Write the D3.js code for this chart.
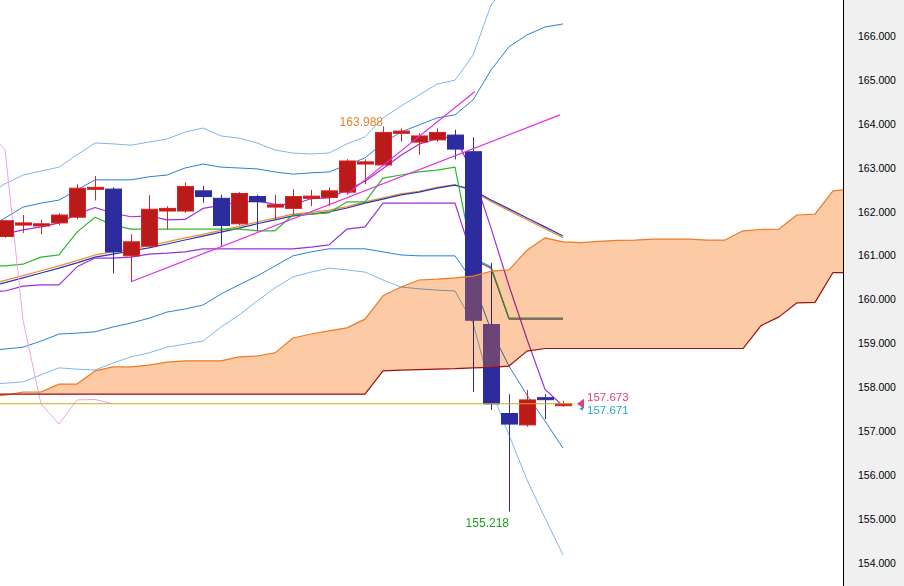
<!DOCTYPE html>
<html lang="en">
<head>
<meta charset="UTF-8">
<title>Chart</title>
<script src="https://d3js.org/d3.v7.min.js"></script>
<style>
    html, body { margin: 0; padding: 0; background: #fff; }
    svg { display: block; font-family: "Liberation Sans", Arial, sans-serif; }
</style>
</head>
<body>
<div id="chart"></div>
<script>
// candles (oldest -> newest), bar 0 .. 31
const opens  = [161.48,161.74,161.72,161.79,161.92,162.56,162.56,161.04,161.26,162.06,162.06,162.52,162.35,161.77,162.39,162.15,162.12,162.35,162.37,162.49,163.13,163.11,163.83,163.63,163.68,163.79,163.41,159.47,157.45,157.19,157.81,157.66];
const highs  = [161.86,161.97,161.86,162.01,162.67,162.86,162.60,161.53,162.42,162.17,162.71,162.63,162.43,162.49,162.43,162.43,162.56,162.54,162.60,163.24,163.24,163.988,163.94,163.83,163.94,163.91,163.74,160.88,157.89,157.99,157.89,157.74];
const lows   = [161.45,161.56,161.53,161.74,161.88,162.30,160.64,160.45,161.25,161.64,162.02,162.25,161.27,161.74,161.61,161.88,161.97,162.17,162.17,162.44,162.67,163.10,163.64,163.34,163.64,163.24,157.94,157.53,155.218,157.15,157.32,157.61];
const closes = [161.84,161.79,161.77,161.97,162.58,162.60,161.13,161.36,162.10,162.12,162.62,162.39,161.73,162.46,162.27,162.20,162.39,162.40,162.52,163.20,163.18,163.85,163.88,163.77,163.85,163.47,159.58,157.67,157.21,157.76,157.77,157.673];

// indicator series start one bar before the first visible candle (bar -1)
const lineStart = -1;

// bollinger bands + moving averages
const bbUp3  = [162.43,162.68,162.88,162.97,163.06,163.34,163.61,163.59,163.56,163.63,163.70,163.86,163.95,163.77,163.72,163.61,163.45,163.38,163.36,163.38,163.59,163.75,164.18,164.45,164.70,164.95,165.04,165.61,166.75,167.26,167.86,168.33,168.75];
const bbUp2  = [161.67,161.90,162.15,162.24,162.31,162.54,162.77,162.77,162.77,162.84,162.88,163.04,163.13,163.06,163.04,163.02,162.95,162.90,162.93,162.95,163.11,163.27,163.61,163.86,164.02,164.18,164.25,164.59,165.27,165.80,166.07,166.25,166.32];
const bbMid  = [160.33,160.43,160.54,160.65,160.76,160.88,161.01,161.08,161.15,161.22,161.31,161.40,161.49,161.58,161.67,161.77,161.86,161.95,161.99,162.04,162.13,162.24,162.33,162.43,162.49,162.58,162.65,162.54,162.31,162.11,161.90,161.70,161.49];
const bbLow2 = [158.87,158.92,158.96,159.10,159.26,159.28,159.31,159.42,159.51,159.62,159.76,159.83,159.92,160.17,160.38,160.58,160.81,161.04,161.13,161.20,161.20,161.20,161.13,161.06,161.04,161.04,161.04,160.45,159.35,158.53,157.87,157.28,156.66];
const bbLow3 = [158.10,158.14,158.17,158.33,158.49,158.46,158.44,158.60,158.74,158.83,158.96,159.03,159.10,159.42,159.69,160.01,160.31,160.56,160.67,160.76,160.72,160.67,160.49,160.33,160.29,160.26,160.24,159.51,158.00,156.96,155.94,155.07,154.23];
const maOrange = [160.38,160.48,160.59,160.70,160.81,160.93,161.06,161.13,161.20,161.27,161.36,161.45,161.53,161.62,161.71,161.81,161.90,161.99,162.03,162.08,162.16,162.27,162.36,162.45,162.51,162.60,162.66,162.52,162.28,162.07,161.86,161.66,161.45];
const ma5 = [161.45,161.54,161.63,161.70,161.79,161.99,162.14,162.01,161.93,161.95,161.86,161.87,162.12,162.19,162.26,162.29,162.21,162.21,162.34,162.36,162.54,162.74,163.03,163.33,163.58,163.71,163.76,162.91,161.67,160.36,159.14,158.00,157.62];

// ichimoku
const tenkan = [160.81,160.81,160.85,161.01,161.06,161.58,161.92,161.74,161.65,161.65,161.65,161.65,161.65,161.65,161.65,161.61,161.61,161.97,161.99,162.02,162.27,162.27,162.81,162.88,162.95,162.99,163.06,160.99,160.79,159.62,159.62,159.62,159.62];
const kijun  = [160.22,160.24,160.35,160.38,160.38,160.79,160.99,160.99,161.01,161.08,161.10,161.13,161.20,161.20,161.20,161.20,161.20,161.20,161.24,161.29,161.65,161.70,162.24,162.24,162.24,162.24,162.24,160.96,160.76,159.60,159.60,159.60,159.60];
const spanA = [157.83,157.87,157.94,157.94,158.12,158.12,158.42,158.51,158.51,158.55,158.62,158.65,158.65,158.65,158.74,158.76,158.83,159.17,159.26,159.33,159.40,159.60,160.13,160.33,160.49,160.51,160.54,160.58,160.69,160.72,161.17,161.45,161.36,161.34,161.37,161.39,161.40,161.42,161.42,161.42,161.40,161.40,161.61,161.64,161.65,161.97,161.99,162.52,162.56];
const spanB = [157.89,157.89,157.89,157.89,157.89,157.89,157.89,157.89,157.89,157.89,157.89,157.89,157.89,157.89,157.89,157.89,157.89,157.89,157.89,157.89,157.89,157.89,158.42,158.44,158.45,158.46,158.47,158.49,158.50,158.53,158.87,158.93,158.93,158.93,158.93,158.93,158.93,158.93,158.93,158.93,158.93,158.93,158.93,159.45,159.65,159.97,159.98,160.66,160.66];
const chikouShift = 25;

// trend lines [bar index, price]
const trendLines = [
    [[7, 160.45], [30.83, 164.25]],
    [[19, 162.44], [26.11, 164.78]]
];

const yTicks = [154, 155, 156, 157, 158, 159, 160, 161, 162, 163, 164, 165, 166];
const highLabel = { bar: 21, price: 163.988 };
const lowLabel = { bar: 28, price: 155.218 };
const ask = 157.673, bid = 157.671;

const width = 904, height = 586, plotW = 843;

const svg = d3.select("#chart").append("svg")
    .attr("width", width)
    .attr("height", height);

svg.append("rect").attr("width", width).attr("height", height).attr("fill", "#fff");

const x = d3.scaleLinear().domain([0, 31]).range([5, 563]);
const y = d3.scaleLinear().domain([154, 166]).range([565.04, 38]);

svg.append("clipPath").attr("id", "plotClip")
    .append("rect").attr("width", plotW).attr("height", height);

const plot = svg.append("g").attr("clip-path", "url(#plotClip)");

const line = d3.line().x((d, i) => x(i + lineStart)).y(d => y(d));

function drawLine(values, color, w) {
    plot.append("path")
        .datum(values)
        .attr("fill", "none")
        .attr("stroke", color)
        .attr("stroke-width", w || 1)
        .attr("stroke-linejoin", "round")
        .attr("d", line);
}

drawLine(bbUp3, "#7fb6ec");
drawLine(bbLow3, "#7fb6ec");
drawLine(bbUp2, "#2b80d6");
drawLine(bbLow2, "#2b80d6");
drawLine(maOrange, "#f08a30", 1.2);
drawLine(bbMid, "#2438b8", 1.2);
drawLine(kijun, "#9b30d8", 1.2);
drawLine(tenkan, "#2cb82c", 1.2);
drawLine(ma5, "#9b30d8", 1.2);

// chikou: closes drawn 25 bars back
plot.append("path")
    .datum(closes)
    .attr("fill", "none")
    .attr("stroke", "#f2a2e2")
    .attr("stroke-width", 1)
    .attr("d", d3.line().x((d, i) => x(i - chikouShift)).y(d => y(d)));

// candles
const red = "#bb1a1a", redEdge = "#dc2222", blue = "#2c2c9e";
const idx = d3.range(closes.length);
const candles = plot.append("g");

candles.selectAll("line.wick")
    .data(idx)
    .enter().append("line")
    .attr("x1", i => x(i) + 0.5)
    .attr("x2", i => x(i) + 0.5)
    .attr("y1", i => y(highs[i]))
    .attr("y2", i => y(lows[i]))
    .attr("stroke", i => closes[i] >= opens[i] ? redEdge : blue)
    .attr("stroke-width", 1);

function bodyTop(i) {
    return y(Math.max(opens[i], closes[i]));
}
function bodyH(i) {
    return Math.max(2, Math.abs(y(opens[i]) - y(closes[i])));
}

candles.selectAll("rect.body")
    .data(idx)
    .enter().append("rect")
    .attr("x", i => x(i) - 7.5)
    .attr("y", i => bodyTop(i))
    .attr("width", 16)
    .attr("height", i => bodyH(i))
    .attr("fill", i => closes[i] >= opens[i] ? red : blue)
    .attr("stroke", i => closes[i] >= opens[i] ? redEdge : blue)
    .attr("stroke-width", 1);

// kumo
const cloudArea = d3.area()
    .x((d, i) => x(i + lineStart))
    .y0((d, i) => y(spanB[i]))
    .y1(d => y(d));

svg.append("clipPath").attr("id", "cloudClip")
    .append("path").datum(spanA).attr("d", cloudArea);

plot.append("path")
    .datum(spanA)
    .attr("fill", "#fdcaa6")
    .style("mix-blend-mode", "multiply")
    .attr("d", cloudArea);

plot.append("g")
    .attr("clip-path", "url(#cloudClip)")
    .selectAll("rect")
    .data(idx.filter(i => closes[i] < opens[i]))
    .enter().append("rect")
    .attr("x", i => x(i) - 7.5)
    .attr("y", i => bodyTop(i))
    .attr("width", 16)
    .attr("height", i => bodyH(i))
    .attr("fill", "#6c4577")
    .attr("stroke", "#6c4577");

drawLine(spanA, "#f07a22", 1.2);
drawLine(spanB, "#9a1212", 1.2);

// trend lines
plot.selectAll("line.trend")
    .data(trendLines)
    .enter().append("line")
    .attr("x1", d => x(d[0][0]))
    .attr("y1", d => y(d[0][1]))
    .attr("x2", d => x(d[1][0]))
    .attr("y2", d => y(d[1][1]))
    .attr("stroke", "#e22ee2")
    .attr("stroke-width", 1.2);

// current price line + markers
const py = y(ask);
plot.append("line")
    .attr("x1", 0).attr("x2", 573)
    .attr("y1", py).attr("y2", py)
    .attr("stroke", "#d4a820")
    .attr("stroke-width", 1);

plot.append("path")
    .attr("d", `M577,${py} L584,${py - 5} L584,${py + 5} Z`)
    .attr("fill", "#e0407a");
plot.append("path")
    .attr("d", `M579,${py + 5} L583,${py + 3} L583,${py + 7} Z`)
    .attr("fill", "#22a8cc");

plot.append("text")
    .attr("x", 587).attr("y", py - 2.5)
    .attr("font-size", 11.5).attr("fill", "#e0407a")
    .text(ask.toFixed(3));
plot.append("text")
    .attr("x", 587).attr("y", y(bid) + 10.5)
    .attr("font-size", 11.5).attr("fill", "#22a8cc")
    .text(bid.toFixed(3));

plot.append("text")
    .attr("x", x(highLabel.bar)).attr("y", y(highLabel.price))
    .attr("text-anchor", "end")
    .attr("font-size", 12).attr("fill", "#e8822e")
    .text(highLabel.price.toFixed(3));
plot.append("text")
    .attr("x", x(lowLabel.bar)).attr("y", y(lowLabel.price) + 15.5)
    .attr("text-anchor", "end")
    .attr("font-size", 12).attr("fill", "#22a022")
    .text(lowLabel.price.toFixed(3));

// price axis
svg.append("rect")
    .attr("x", plotW).attr("y", 0)
    .attr("width", width - plotW).attr("height", height)
    .attr("fill", "#f0f0f0");

const axis = svg.append("g")
    .attr("transform", `translate(${plotW},0)`)
    .call(d3.axisRight(y).tickValues(yTicks).tickSize(0).tickPadding(15).tickFormat(d3.format(".3f")));
axis.select(".domain").remove();
axis.selectAll("text")
    .attr("y", -2)
    .attr("font-size", 10.5)
    .attr("font-family", "'Liberation Sans', Arial, sans-serif")
    .attr("fill", "#000");

svg.append("line")
    .attr("x1", plotW + 0.5).attr("x2", plotW + 0.5)
    .attr("y1", 0).attr("y2", height)
    .attr("stroke", "#000");
</script>
</body>
</html>
